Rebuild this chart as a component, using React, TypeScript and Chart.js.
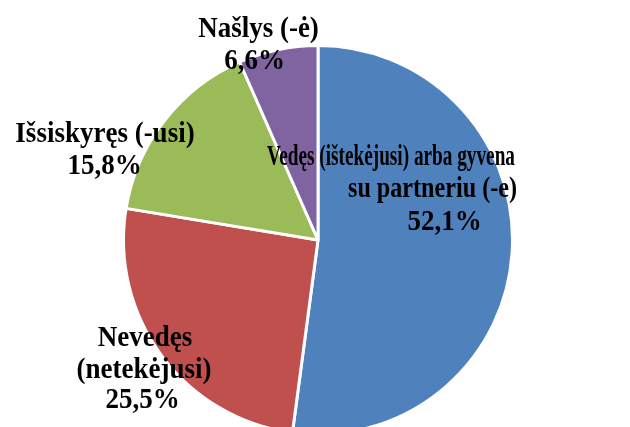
import React, { useEffect, useRef } from "react";
import { Chart, registerables } from "chart.js";

Chart.register(...registerables);

// ---- data ----
const categories: string[][] = [
  ["Vedęs (ištekėjusi) arba gyvena", "su partneriu (-e)"],
  ["Nevedęs", "(netekėjusi)"],
  ["Išsiskyręs (-usi)"],
  ["Našlys (-ė)"],
];
const values: number[] = [52.1, 25.5, 15.8, 6.6];
const colors: string[] = ["#4F81BD", "#C0504D", "#9BBB59", "#8064A2"];

// ---- label layout (offsets from pie centre, per line; last line is the value) ----
type LineLayout = { dx: number; dy: number; maxW?: number };
const labelLayout: LineLayout[][] = [
  [
    { dx: 73, dy: -75, maxW: 248 },
    { dx: 114.5, dy: -43, maxW: 169 },
    { dx: 126.5, dy: -10 },
  ],
  [
    { dx: -173, dy: 106 },
    { dx: -174, dy: 138 },
    { dx: -175.5, dy: 168 },
  ],
  [
    { dx: -213, dy: -98 },
    { dx: -213.5, dy: -66 },
  ],
  [
    { dx: -59.5, dy: -203 },
    { dx: -63.5, dy: -171.5 },
  ],
];

const fmt = (v: number) => v.toFixed(1).replace(".", ",") + "%";

const labelPlugin = {
  id: "sliceLabels",
  afterDatasetsDraw(chart: any) {
    const meta = chart.getDatasetMeta(0);
    const arc0 = meta.data[0];
    if (!arc0) return;
    const cx = arc0.x;
    const cy = arc0.y;
    const ctx = chart.ctx;
    ctx.save();
    ctx.font = 'bold 27px "Liberation Serif", "Times New Roman", serif';
    ctx.fillStyle = "#000000";
    ctx.textAlign = "center";
    ctx.textBaseline = "alphabetic";
    categories.forEach((lines, i) => {
      const texts = [...lines, fmt(values[i])];
      const lay = labelLayout[i];
      texts.forEach((t, j) => {
        const l = lay[j];
        ctx.save();
        ctx.translate(cx + l.dx, cy + l.dy);
        ctx.scale(1, 1.08);
        if (l.maxW) ctx.fillText(t, 0, 0, l.maxW);
        else ctx.fillText(t, 0, 0);
        ctx.restore();
      });
    });
    ctx.restore();
  },
};

export default function App() {
  const ref = useRef<HTMLCanvasElement>(null);
  useEffect(() => {
    if (!ref.current) return;
    const chart = new Chart(ref.current, {
      type: "pie",
      data: {
        labels: categories.map((c) => c.join(" ")),
        datasets: [
          {
            data: values,
            backgroundColor: colors,
            borderColor: "#FFFFFF",
            borderWidth: 3,
          },
        ],
      },
      options: {
        animation: false,
        responsive: true,
        maintainAspectRatio: false,
        layout: { padding: { top: 44, bottom: 44, left: 6, right: 0 } },
        plugins: {
          legend: { display: false },
          tooltip: { enabled: false },
        },
      },
      plugins: [labelPlugin],
    });
    return () => chart.destroy();
  }, []);
  return (
    <div
      style={{
        position: "absolute",
        left: 0,
        top: 0,
        width: 630,
        height: 427,
        overflow: "hidden",
        background: "#FFFFFF",
      }}
    >
      <div style={{ position: "relative", width: 630, height: 480 }}>
        <canvas ref={ref} />
      </div>
    </div>
  );
}
